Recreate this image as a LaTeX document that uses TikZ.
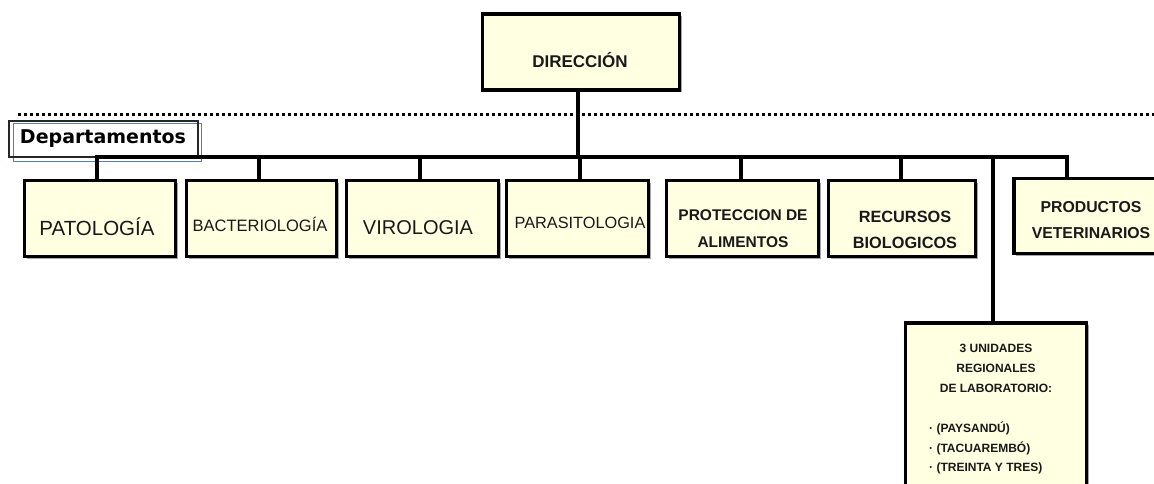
\documentclass[tikz,border=0pt]{standalone}
\usepackage{fontspec}
\setmainfont{Liberation Sans}
\newfontfamily\dejabold{DejaVu Sans}[BoldFont={DejaVu Sans Bold}]
\usetikzlibrary{shadows}
\definecolor{boxfill}{RGB}{255,255,226}
\definecolor{deptblue}{RGB}{88,124,176}
\tikzset{
  unitbox/.style={draw=black, line width=3.5pt, fill=boxfill, inner sep=0pt,
    drop shadow={shadow xshift=2pt, shadow yshift=-2pt, fill=black!35, opacity=1}},
  conn/.style={line width=3.5pt, line cap=rect},
  txt/.style={align=center, inner sep=0pt, text=black!90},
}
\begin{document}
\begin{tikzpicture}[x=1pt, y=-1pt]
\useasboundingbox (0,0) rectangle (1154,484);
\begin{scope}
\clip (0,0) rectangle (1154,484);

% dotted separator
\coordinate (dl) at (18,115);
\coordinate (dr) at (1154,115);
\draw[line width=3pt, dash pattern=on 3pt off 3pt] (dl) -- (dr);

% Direccion
\node[unitbox, minimum width=197pt, minimum height=76pt] (dir) at (581,52) {};
\node[txt, font=\bfseries\fontsize{17}{20}\selectfont] (dirt) at (580,60) {DIRECCIÓN};

% Departamentos label
\node[draw=deptblue, line width=1.6pt, minimum width=188pt, minimum height=38pt, inner sep=0pt] (deptblue) at (107.5,142.5) {};
\node[draw=black!85, line width=2pt, minimum width=189pt, minimum height=36pt, inner sep=0pt] (deptblack) at (103,139.5) {};
\node[txt, text=black, font=\dejabold\bfseries\fontsize{19}{21}\selectfont] (dept) at (103,139) {Departamentos};

% bus
\coordinate (b1) at (97,157);
\coordinate (b2) at (259,157);
\coordinate (b3) at (420,157);
\coordinate (b4) at (580,157);
\coordinate (b5) at (741,157);
\coordinate (b6) at (901,157);
\coordinate (b7) at (993,157);
\coordinate (b8) at (1067,157);
\coordinate (bd) at (578,157);
\draw[conn] (b1) -- (b8);
\draw[conn] (dir.south -| bd) -- (bd);

% department boxes
\node[unitbox, minimum width=151pt, minimum height=76pt] (p1) at (100,218.5) {};
\node[unitbox, minimum width=150pt, minimum height=76pt] (p2) at (261.5,218.5) {};
\node[unitbox, minimum width=152pt, minimum height=76pt] (p3) at (422.5,218.5) {};
\node[unitbox, minimum width=142pt, minimum height=76pt] (p4) at (577.5,218.5) {};
\node[unitbox, minimum width=152pt, minimum height=76pt] (p5) at (742.5,218.5) {};
\node[unitbox, minimum width=147pt, minimum height=76pt] (p6) at (902,218.5) {};
\node[unitbox, minimum width=162pt, minimum height=75pt] (p7) at (1095,216) {};
\node[unitbox, minimum width=181pt, minimum height=190pt] (p8) at (996,418) {};

\draw[conn] (b1) -- (b1 |- p1.north);
\draw[conn] (b2) -- (b2 |- p2.north);
\draw[conn] (b3) -- (b3 |- p3.north);
\draw[conn] (b4) -- (b4 |- p4.north);
\draw[conn] (b5) -- (b5 |- p5.north);
\draw[conn] (b6) -- (b6 |- p6.north);
\draw[conn] (b8) -- (b8 |- p7.north);
\draw[conn] (b7) -- (b7 |- p8.north);

% texts
\node[txt, font=\fontsize{20.5}{22}\selectfont] (t1) at (97,227) {PATOLOGÍA};
\node[txt, font=\fontsize{16.5}{19}\selectfont] (t2) at (260,224) {BACTERIOLOGÍA};
\node[txt, font=\fontsize{20}{22}\selectfont] (t3) at (418,228) {VIROLOGIA};
\node[txt, font=\fontsize{16.3}{19}\selectfont] (t4) at (580,223) {PARASITOLOGIA};
\node[txt, font=\bfseries\fontsize{15.5}{27}\selectfont] (t5) at (743,229) {PROTECCION DE\\ALIMENTOS};
\node[txt, font=\bfseries\fontsize{16.3}{26}\selectfont] (t6) at (905,230) {RECURSOS\\BIOLOGICOS};
\node[txt, font=\bfseries\fontsize{15.8}{26}\selectfont] (t7) at (1091,220) {PRODUCTOS\\VETERINARIOS};
\node[txt, font=\bfseries\fontsize{12}{20}\selectfont] (t8) at (996,368) {3 UNIDADES\\REGIONALES\\DE LABORATORIO:};
\node[txt, align=left, anchor=west, font=\bfseries\fontsize{12}{19.5}\selectfont] (t9) at (929,448) {· (PAYSANDÚ)\\· (TACUAREMBÓ)\\· (TREINTA Y TRES)};
\end{scope}
\end{tikzpicture}
\end{document}
